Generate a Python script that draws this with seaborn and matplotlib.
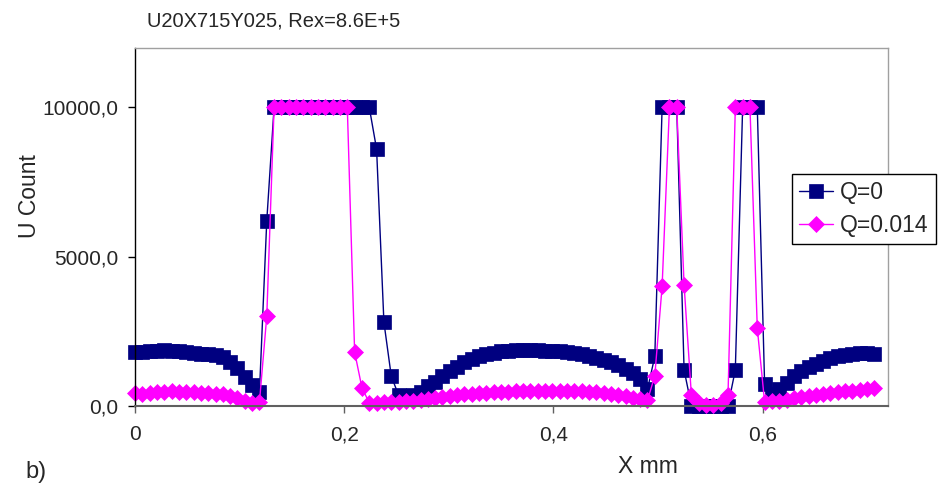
import numpy as np
import pandas as pd
import matplotlib
matplotlib.use("Agg")
import matplotlib.pyplot as plt
import seaborn as sns; sns.set_style("white")

plt.rcParams['font.family'] = ['Liberation Sans', 'DejaVu Sans']

# Values, one sample every 0.007 mm (102 samples)
x_step = 0.007

u_q0 = [1800, 1800, 1820, 1850, 1860, 1850, 1820, 1800, 1770, 1750, 1720, 1700,
        1620, 1480, 1250, 950, 700, 450,
        6200,
        10000, 10000, 10000, 10000, 10000, 10000, 10000, 10000, 10000, 10000,
        10000, 10000, 10000, 10000,
        8600, 2800, 1000,
        350, 300, 350, 450, 650, 800, 1000, 1150, 1300, 1450, 1550, 1650, 1720,
        1780, 1820, 1850, 1880, 1880, 1870, 1860, 1850, 1840, 1820, 1800, 1760,
        1720, 1660, 1600, 1530, 1450, 1350, 1230, 1100, 900, 550,
        1650, 10000, 10000, 10000, 1200,
        0, 0, 0, 0, 0, 0,
        1200, 10000, 10000, 10000, 720,
        400, 550, 750, 1000, 1150, 1300, 1400, 1500, 1600, 1650, 1700, 1750,
        1780, 1780, 1750]

u_q014 = [420, 400, 430, 450, 470, 480, 470, 460, 450, 440, 420, 400,
          380, 330, 250, 150, 100, 120,
          3000,
          10000, 10000, 10000, 10000, 10000, 10000, 10000, 10000, 10000, 10000,
          10000,
          1800, 600,
          100, 100, 110, 120, 130, 150, 170, 200, 230, 260, 290, 320, 350, 380,
          400, 420, 440, 450, 460, 470, 480, 490, 500, 510, 510, 510, 500, 500,
          490, 480, 470, 450, 420, 390, 360, 320, 270, 220, 180,
          1000, 4000, 10000, 10000, 4050,
          350, 80, 20, 20, 80, 350,
          10000, 10000, 10000, 2600,
          120, 150, 170, 200, 250, 280, 320, 350, 380, 420, 450, 480, 500, 520,
          550, 580]

x_mm = np.arange(len(u_q0)) * x_step

x_ticks = [0, 0.2, 0.4, 0.6]
x_tick_labels = ["0", "0,2", "0,4", "0,6"]
y_ticks = [0, 5000, 10000]
y_tick_labels = ["0,0", "5000,0", "10000,0"]

navy = "#000080"
magenta = "#FF00FF"

fig, ax = plt.subplots(figsize=(9.44, 4.9), dpi=100)
fig.subplots_adjust(left=0.143, right=0.9407, bottom=0.172, top=0.9027)

sns.lineplot(x=x_mm, y=u_q0, ax=ax, color=navy, lw=1, marker="s", markersize=10.5,
             markeredgecolor=navy, markeredgewidth=0.5, label="Q=0", clip_on=False)
sns.lineplot(x=x_mm, y=u_q014, ax=ax, color=magenta, lw=1, marker="D", markersize=8.5,
             markeredgecolor=magenta, markeredgewidth=0.5, label="Q=0.014", clip_on=False)

ax.set_xlim(0, 0.72)
ax.set_ylim(0, 12000)
ax.set_xticks(x_ticks)
ax.set_xticklabels(x_tick_labels)
ax.set_yticks(y_ticks)
ax.set_yticklabels(y_tick_labels)
ax.tick_params(axis='both', direction='out', length=5, width=1, labelsize=15,
               bottom=True, left=True)
ax.tick_params(axis='y', pad=7, color='black')
ax.tick_params(axis='x', pad=9, color='#606060')
ax.set_xlabel("")
ax.set_ylabel("")

ax.spines['left'].set_color('black')
ax.spines['left'].set_linewidth(1)
ax.spines['bottom'].set_color('#606060')
ax.spines['bottom'].set_linewidth(1.5)
for side in ['top', 'right']:
    ax.spines[side].set_color('#a0a0a0')
    ax.spines[side].set_linewidth(1)

leg = ax.legend(loc='upper left', bbox_to_anchor=(792/944, 1 - 174/490),
                bbox_transform=fig.transFigure, borderaxespad=0, fontsize=16.5,
                frameon=True, fancybox=False, edgecolor='black', framealpha=1,
                handlelength=1.5, handletextpad=0.3, borderpad=0.3, labelspacing=0.45)
leg.get_frame().set_linewidth(1)

fig.text(147/944, 1 - 21/490, "U20X715Y025, Rex=8.6E+5", fontsize=14.5, va='center', ha='left')
fig.text(29/944, 1 - 196/490, "U Count", fontsize=16.5, rotation=90, va='center', ha='center')
fig.text(648/944, 1 - 466/490, "X mm", fontsize=16.5, va='center', ha='center')
fig.text(25/944, 1 - 472/490, "b)", fontsize=17, va='center', ha='left')

fig.savefig("out.png", dpi=100)
